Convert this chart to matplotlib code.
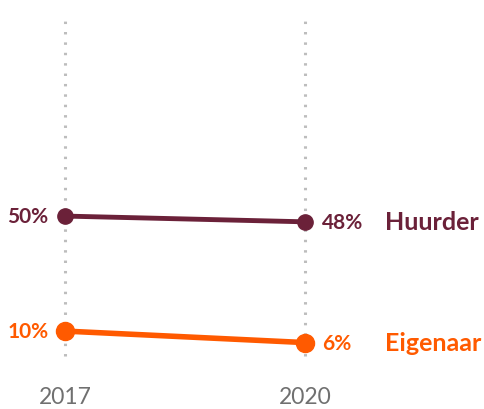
import matplotlib
matplotlib.use("Agg")
import matplotlib.pyplot as plt

# ── data ──────────────────────────────────────────────
years = ["2017", "2020"]
groups = ["Huurder", "Eigenaar"]
values = {
    "Huurder": [50, 48],
    "Eigenaar": [10, 6],
}
colors = {"Huurder": "#6b2139", "Eigenaar": "#ff5a00"}
marker_size = {"Huurder": 11, "Eigenaar": 13}
line_width = {"Huurder": 3.5, "Eigenaar": 4.0}

# ── figure ────────────────────────────────────────────
fig = plt.figure(figsize=(4.85, 4.10), dpi=100)
ax = fig.add_axes([0, 0, 1, 1])
ax.set_xlim(-0.271, 1.75)
ax.set_ylim(-17.1, 125.5)
ax.axis("off")

xs = list(range(len(years)))

# dotted guides per year
ax.vlines(xs, 1.3, 119.9, colors="#bdbdbd", linestyles=(0, (0.8, 2.6)),
          linewidth=2.2, zorder=1)

for g in groups:
    v = values[g]
    c = colors[g]
    ax.plot(xs, v, color=c, linewidth=line_width[g], solid_capstyle="butt",
            marker="o", markersize=marker_size[g], zorder=3)
    ax.text(xs[0] - 0.07, v[0], f"{v[0]}%", color=c, ha="right", va="center",
            fontsize=15, fontweight="bold", family="Lato")
    ax.text(xs[1] + 0.07, v[1], f"{v[1]}%", color=c, ha="left", va="center",
            fontsize=15, fontweight="bold", family="Lato")
    ax.text(1.335, v[1], g, color=c, ha="left", va="center",
            fontsize=18, fontweight="bold", family="Lato")

for x, yr in zip(xs, years):
    ax.text(x, -12.6, yr, color="#707070", ha="center", va="center",
            fontsize=16.5, fontweight="normal", family="Lato")

plt.savefig("out.png", dpi=100)
